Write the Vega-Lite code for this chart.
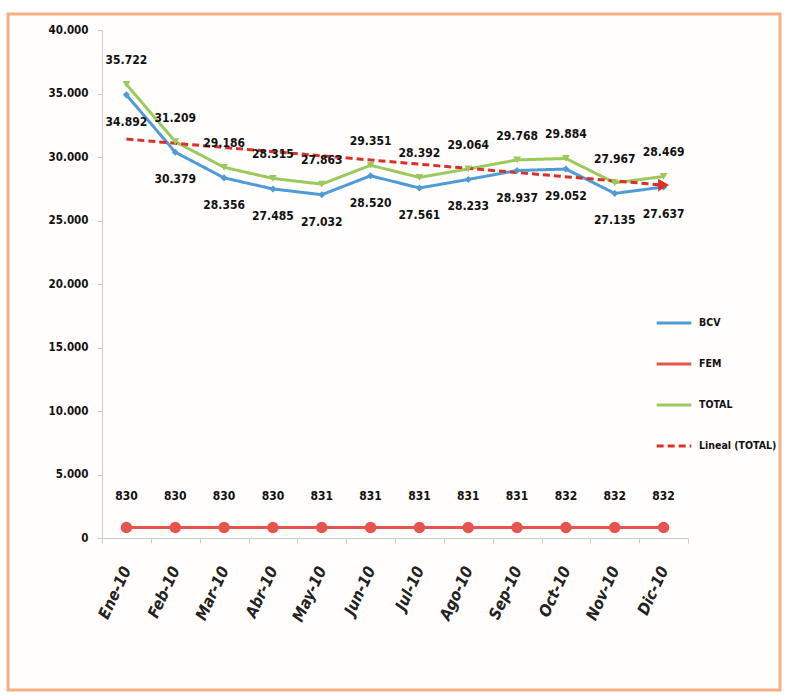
{
  "$schema": "https://vega.github.io/schema/vega-lite/v6.json",
  "width": 772,
  "height": 676,
  "autosize": {"type": "none"},
  "padding": {"left": 8, "top": 14, "right": 8, "bottom": 10},
  "background": "white",
  "config": {
    "locale": {"number": {"decimal": ",", "thousands": ".", "grouping": [3], "currency": ["", " €"]}},
    "view": {"stroke": "#f4b083", "strokeWidth": 3, "fill": "#fffefc"},
    "font": "DejaVu Sans Condensed, Liberation Sans Narrow, sans-serif"
  },
  "data": {
    "values": [
      {"month": "Ene-10", "series": "BCV", "value": 34892},
      {"month": "Feb-10", "series": "BCV", "value": 30379},
      {"month": "Mar-10", "series": "BCV", "value": 28356},
      {"month": "Abr-10", "series": "BCV", "value": 27485},
      {"month": "May-10", "series": "BCV", "value": 27032},
      {"month": "Jun-10", "series": "BCV", "value": 28520},
      {"month": "Jul-10", "series": "BCV", "value": 27561},
      {"month": "Ago-10", "series": "BCV", "value": 28233},
      {"month": "Sep-10", "series": "BCV", "value": 28937},
      {"month": "Oct-10", "series": "BCV", "value": 29052},
      {"month": "Nov-10", "series": "BCV", "value": 27135},
      {"month": "Dic-10", "series": "BCV", "value": 27637},
      {"month": "Ene-10", "series": "FEM", "value": 830},
      {"month": "Feb-10", "series": "FEM", "value": 830},
      {"month": "Mar-10", "series": "FEM", "value": 830},
      {"month": "Abr-10", "series": "FEM", "value": 830},
      {"month": "May-10", "series": "FEM", "value": 831},
      {"month": "Jun-10", "series": "FEM", "value": 831},
      {"month": "Jul-10", "series": "FEM", "value": 831},
      {"month": "Ago-10", "series": "FEM", "value": 831},
      {"month": "Sep-10", "series": "FEM", "value": 831},
      {"month": "Oct-10", "series": "FEM", "value": 832},
      {"month": "Nov-10", "series": "FEM", "value": 832},
      {"month": "Dic-10", "series": "FEM", "value": 832},
      {"month": "Ene-10", "series": "TOTAL", "value": 35722},
      {"month": "Feb-10", "series": "TOTAL", "value": 31209},
      {"month": "Mar-10", "series": "TOTAL", "value": 29186},
      {"month": "Abr-10", "series": "TOTAL", "value": 28315},
      {"month": "May-10", "series": "TOTAL", "value": 27863},
      {"month": "Jun-10", "series": "TOTAL", "value": 29351},
      {"month": "Jul-10", "series": "TOTAL", "value": 28392},
      {"month": "Ago-10", "series": "TOTAL", "value": 29064},
      {"month": "Sep-10", "series": "TOTAL", "value": 29768},
      {"month": "Oct-10", "series": "TOTAL", "value": 29884},
      {"month": "Nov-10", "series": "TOTAL", "value": 27967},
      {"month": "Dic-10", "series": "TOTAL", "value": 28469},
      {"month": "Ene-10", "series": "Lineal (TOTAL)", "value": 31410},
      {"month": "Dic-10", "series": "Lineal (TOTAL)", "value": 27788}
    ]
  },
  "encoding": {
    "x": {
      "field": "month",
      "type": "nominal",
      "sort": ["Ene-10", "Feb-10", "Mar-10", "Abr-10", "May-10", "Jun-10", "Jul-10", "Ago-10", "Sep-10", "Oct-10", "Nov-10", "Dic-10"],
      "scale": {"type": "band", "range": [94, 680], "paddingInner": 0, "paddingOuter": 0},
      "axis": {
        "title": null,
        "orient": "bottom",
        "offset": -152,
        "labelAngle": -65,
        "labelFontSize": 16,
        "labelFontWeight": "bold",
        "labelFontStyle": "italic",
        "labelColor": "#222222",
        "labelPadding": 24,
        "domainColor": "#cccccc",
        "tickColor": "#cccccc",
        "tickBand": "extent",
        "tickSize": 5,
        "grid": false
      }
    },
    "y": {
      "field": "value",
      "type": "quantitative",
      "scale": {"domain": [0, 40000], "range": [524, 16], "nice": false, "zero": false},
      "axis": {
        "title": null,
        "offset": -94,
        "values": [0, 5000, 10000, 15000, 20000, 25000, 30000, 35000, 40000],
        "format": ",d",
        "labelFontSize": 11.5,
        "labelFontWeight": "bold",
        "labelColor": "#111111",
        "labelPadding": 9,
        "domainColor": "#cccccc",
        "tickColor": "#cccccc",
        "tickSize": 5,
        "grid": false
      }
    }
  },
  "layer": [
    {
      "mark": {"type": "line", "strokeWidth": 3},
      "encoding": {
        "color": {
          "field": "series",
          "type": "nominal",
          "scale": {"domain": ["BCV", "FEM", "TOTAL", "Lineal (TOTAL)"], "range": ["#4f9bd6", "#e5544e", "#9cc95b", "#d9302a"]},
          "legend": {
            "title": null,
            "orient": "none",
            "legendX": 647,
            "legendY": 290,
            "symbolType": "stroke",
            "symbolSize": 1200,
            "symbolStrokeWidth": 3,
            "rowPadding": 16,
            "labelFontSize": 10.5,
            "labelFontWeight": "bold",
            "labelColor": "#111111",
            "labelOffset": 6
          }
        },
        "strokeDash": {
          "field": "series",
          "type": "nominal",
          "scale": {"domain": ["BCV", "FEM", "TOTAL", "Lineal (TOTAL)"], "range": [[1, 0], [1, 0], [1, 0], [7, 4]]},
          "legend": {
            "title": null,
            "orient": "none",
            "legendX": 647,
            "legendY": 290,
            "symbolType": "stroke",
            "symbolSize": 1200,
            "symbolStrokeWidth": 3,
            "rowPadding": 16,
            "labelFontSize": 10.5,
            "labelFontWeight": "bold",
            "labelColor": "#111111",
            "labelOffset": 6
          }
        }
      }
    },
    {
      "transform": [{"filter": "datum.series === 'BCV'"}],
      "mark": {"type": "point", "shape": "diamond", "filled": true, "size": 50, "color": "#4f9bd6", "opacity": 1}
    },
    {
      "transform": [{"filter": "datum.series === 'TOTAL'"}],
      "mark": {"type": "point", "shape": "triangle-down", "filled": true, "size": 60, "color": "#9cc95b", "opacity": 1}
    },
    {
      "transform": [{"filter": "datum.series === 'FEM'"}],
      "mark": {"type": "point", "shape": "circle", "filled": true, "size": 130, "color": "#e5544e", "opacity": 1}
    },
    {
      "transform": [{"filter": "datum.series === 'Lineal (TOTAL)' && datum.month === 'Dic-10'"}],
      "mark": {"type": "point", "shape": "triangle-right", "filled": true, "size": 160, "color": "#d9302a", "opacity": 1}
    },
    {
      "transform": [{"filter": "datum.series === 'TOTAL'"}],
      "mark": {"type": "text", "dy": -24, "fontSize": 12, "fontWeight": "bold", "color": "#111111"},
      "encoding": {"text": {"field": "value", "type": "quantitative", "format": ",d"}}
    },
    {
      "transform": [{"filter": "datum.series === 'BCV'"}],
      "mark": {"type": "text", "dy": 27, "fontSize": 12, "fontWeight": "bold", "color": "#111111"},
      "encoding": {"text": {"field": "value", "type": "quantitative", "format": ",d"}}
    },
    {
      "transform": [{"filter": "datum.series === 'FEM'"}],
      "mark": {"type": "text", "dy": -31, "fontSize": 12, "fontWeight": "bold", "color": "#111111"},
      "encoding": {"text": {"field": "value", "type": "quantitative", "format": ",d"}}
    }
  ]
}
